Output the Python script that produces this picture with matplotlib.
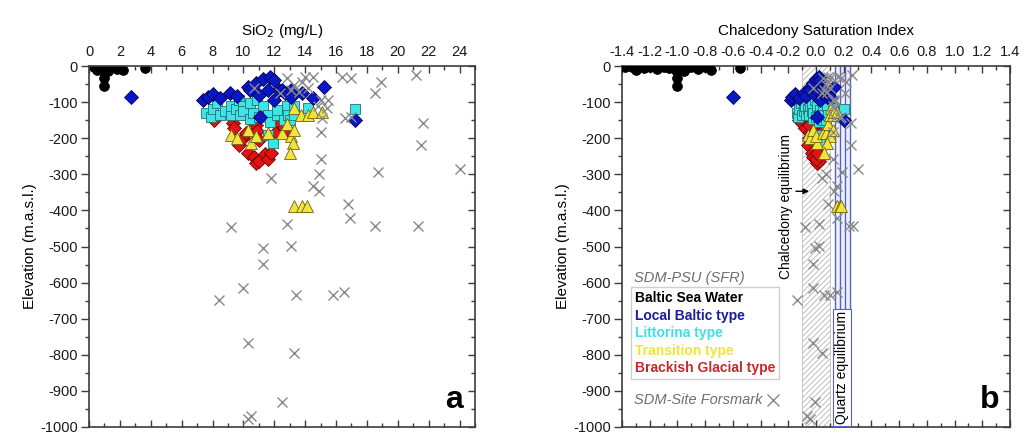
import matplotlib.pyplot as plt
from matplotlib.ticker import MultipleLocator
from matplotlib.lines import Line2D

plt.rcParams['font.family'] = ['Liberation Sans', 'DejaVu Sans']
plt.rcParams['axes.unicode_minus'] = False
plt.rcParams['hatch.linewidth'] = 0.6

# --- SDM-PSU (SFR) groundwater types: SiO2 (mg/L), chalcedony SI, elevation (m) ---
baltic_sio2 = [0.3, 0.5, 0.6, 0.7, 0.8, 0.9, 1.0, 1.1, 1.2, 1.3, 1.4, 1.6, 1.8, 2.0, 2.2,
               0.5, 1.2, 0.95, 1.0, 1.0, 3.6]
baltic_si = [-1.38, -1.33, -1.28, -1.24, -1.20, -1.15, -1.10, -1.06, -1.02, -0.98, -0.94,
             -0.90, -0.85, -0.80, -0.76, -1.30, -0.95, -1.00, -1.00, -1.00, -0.55]
baltic_elev = [-2, -4, -1, -6, -3, -8, -2, -5, -9, -3, -6, -2, -7, -4, -10,
               -12, -14, -18, -32, -55, -5]

local_sio2 = [2.7, 7.4, 7.7, 8.0, 8.5, 9.1, 9.6, 10.3, 10.4, 10.8, 11.0, 11.1, 11.3, 11.6,
              11.7, 12.0, 12.0, 12.3, 12.5, 12.7, 13.1, 13.1, 13.8, 14.5, 15.2, 17.2]
local_si = [-0.60, -0.18, -0.17, -0.15, -0.12, -0.09, -0.07, -0.04, -0.04, -0.02, -0.01,
            0.01, 0.00, 0.01, 0.02, 0.03, 0.03, 0.04, 0.04, 0.05, 0.06, 0.08, 0.09, 0.11,
            0.13, 0.20]
local_elev = [-85, -94, -85, -78, -88, -76, -82, -57, -66, -47, -80, -140, -36, -66,
              -30, -38, -94, -66, -66, -75, -66, -85, -75, -88, -58, -150]

littorina_sio2 = [7.6, 7.9, 8.0, 8.3, 8.5, 8.8, 9.2, 9.2, 9.5, 9.7, 9.8, 10.0, 10.0, 10.4,
                  10.4, 10.6, 10.9, 11.0, 11.3, 11.6, 11.7, 12.2, 12.2, 12.6, 12.8, 12.9,
                  13.0, 13.3, 13.3, 14.2, 11.6, 11.9, 17.2]
littorina_si = [-0.14, -0.13, -0.12, -0.11, -0.10, -0.09, -0.07, -0.08, -0.06, -0.05, -0.05,
                -0.04, -0.03, -0.03, -0.02, -0.02, -0.01, 0.00, 0.01, 0.02, 0.02, 0.04,
                0.03, 0.05, 0.05, 0.06, 0.07, 0.08, 0.09, 0.12, 0.03, 0.05, 0.20]
littorina_elev = [-130, -140, -120, -102, -135, -125, -135, -112, -120, -94, -135, -110,
                  -125, -102, -148, -130, -94, -140, -112, -135, -154, -135, -121, -150,
                  -112, -135, -150, -112, -135, -116, -190, -212, -118]

transition_sio2 = [9.2, 9.6, 10.3, 10.5, 10.8, 11.6, 12.5, 12.8, 13.1, 13.2, 13.0, 13.3,
                   13.3, 13.7, 14.2, 14.5, 15.1, 13.3, 13.8, 14.1]
transition_si = [-0.06, -0.04, -0.02, 0.01, 0.00, 0.05, 0.07, 0.09, 0.10, 0.08, 0.06, 0.12,
                 0.11, 0.10, 0.12, 0.13, 0.15, 0.15, 0.17, 0.18]
transition_elev = [-190, -199, -176, -212, -195, -185, -185, -160, -195, -212, -240, -176,
                   -116, -135, -135, -127, -127, -388, -388, -388]

glacial_sio2 = [8.1, 9.3, 9.4, 9.7, 10.0, 10.2, 10.3, 10.7, 10.7, 10.8, 10.8, 10.9, 11.0,
                11.0, 11.4, 11.6, 11.8, 12.1, 12.3, 12.6, 12.9]
glacial_si = [-0.12, -0.10, -0.08, -0.06, -0.05, -0.04, -0.03, -0.02, -0.02, -0.05, 0.01,
              -0.01, -0.01, 0.02, 0.03, 0.00, 0.01, 0.03, 0.04, 0.05, 0.06]
glacial_elev = [-150, -157, -171, -218, -199, -185, -240, -182, -251, -163, -268, -180,
                -204, -264, -245, -259, -240, -182, -157, -168, -176]

# --- SDM-Site Forsmark ---
site_sio2 = [16.4, 17.0, 18.5, 18.9, 21.2, 21.6, 21.5, 24.0, 18.7, 11.8, 15.0, 14.9, 14.5,
             14.9, 15.0, 15.5, 15.4, 16.6, 17.0, 12.8, 13.3, 13.8, 14.0, 14.5, 14.2, 13.6,
             13.1, 10.7, 12.4, 15.0, 14.8, 15.1, 16.8, 9.2, 8.4, 10.0, 11.3, 11.3, 12.8,
             13.1, 13.4, 15.8, 16.5, 16.9, 18.5, 21.3, 10.3, 13.3, 12.5, 10.3, 10.5]
site_si = [0.16, 0.18, 0.21, 0.22, 0.26, 0.25, 0.25, 0.30, 0.19, 0.04, 0.12, 0.07, 0.15,
           0.13, 0.12, 0.14, 0.13, 0.17, 0.18, 0.05, 0.07, 0.09, 0.09, 0.11, 0.10, 0.08,
           0.06, -0.02, 0.04, 0.12, 0.12, 0.13, 0.09, -0.08, -0.14, -0.02, -0.01, -0.02,
           0.02, 0.02, 0.06, 0.10, 0.15, 0.15, 0.24, 0.27, -0.02, 0.045, -0.01, -0.04,
           -0.065]
site_elev = [-30, -33, -75, -43, -25, -158, -218, -286, -295, -309, -259, -300, -333, -347,
             -182, -94, -116, -143, -140, -33, -52, -43, -30, -30, -61, -71, -66, -61, -75,
             -94, -112, -143, -383, -447, -648, -615, -505, -548, -438, -498, -633, -633,
             -625, -421, -443, -443, -766, -794, -931, -978, -970]

# label, data, marker style, colour of the legend text
groups = [
    ("Brackish Glacial type", glacial_sio2, glacial_si, glacial_elev,
     dict(marker='D', ms=7.5, mfc='#e01414', mec='#6a0000', mew=0.6), '#c8282c'),
    ("Littorina type", littorina_sio2, littorina_si, littorina_elev,
     dict(marker='s', ms=7, mfc='#3ce6e6', mec='#2a6e6e', mew=0.6), '#3ee0e8'),
    ("Transition type", transition_sio2, transition_si, transition_elev,
     dict(marker='^', ms=8, mfc='#f2e43c', mec='#6e6414', mew=0.6), '#f0e43a'),
    ("Local Baltic type", local_sio2, local_si, local_elev,
     dict(marker='D', ms=7.5, mfc='#0a18c4', mec='#00005a', mew=0.6), '#1c1c9c'),
    ("Baltic Sea Water", baltic_sio2, baltic_si, baltic_elev,
     dict(marker='o', ms=7, mfc='black', mec='black', mew=0.6), 'black'),
]
legend_order = ["Baltic Sea Water", "Local Baltic type", "Littorina type",
                "Transition type", "Brackish Glacial type"]

fig = plt.figure(figsize=(10.24, 4.34), dpi=100)
ax_a = fig.add_axes([89 / 1024, 7 / 434, 386 / 1024, 361 / 434])
ax_b = fig.add_axes([622 / 1024, 7 / 434, 388 / 1024, 361 / 434])

frame = '#3c3c3c'


def style_axes(ax, xmaj, xmin):
    ax.set_ylim(-1000, 0)
    ax.xaxis.set_major_locator(MultipleLocator(xmaj))
    ax.xaxis.set_minor_locator(MultipleLocator(xmin))
    ax.yaxis.set_major_locator(MultipleLocator(100))
    ax.yaxis.set_minor_locator(MultipleLocator(50))
    for s in ax.spines.values():
        s.set_color(frame)
        s.set_linewidth(1.2)
    ax.xaxis.set_ticks_position('top')
    ax.tick_params(axis='x', which='both', direction='in', top=True, bottom=True,
                   labeltop=True, labelbottom=False, color=frame, labelsize=10.5,
                   pad=5, labelcolor='#1a1a1a')
    ax.tick_params(axis='x', which='major', length=5, width=1)
    ax.tick_params(axis='x', which='minor', length=3, width=1)
    ax.tick_params(axis='y', which='both', direction='out', right=False, color=frame,
                   labelsize=10.5, pad=2, labelcolor='#1a1a1a')
    ax.tick_params(axis='y', which='major', length=6, width=1)
    ax.tick_params(axis='y', which='minor', length=3, width=1)
    # inward ticks on the right-hand frame
    sec = ax.secondary_yaxis('right')
    sec.yaxis.set_major_locator(MultipleLocator(100))
    sec.yaxis.set_minor_locator(MultipleLocator(50))
    sec.tick_params(which='both', direction='in', labelright=False, color=frame)
    sec.tick_params(which='major', length=5, width=1)
    sec.tick_params(which='minor', length=3, width=1)
    sec.spines['right'].set_visible(False)
    ax.set_ylabel("Elevation (m.a.s.l.)", fontsize=11, labelpad=2)


# ---------- panel a: SiO2 ----------
for label, sio2, si, elev, mk, _ in groups:
    ax_a.plot(sio2, elev, ls='none', **mk)
ax_a.plot(site_sio2, site_elev, ls='none', marker='x', ms=7, mew=1.0, color='#8a8a8a')
ax_a.set_xlim(0, 25)
style_axes(ax_a, 2, 1)
ax_a.set_xlabel("SiO$_2$ (mg/L)", fontsize=11, labelpad=7)
ax_a.xaxis.set_label_position('top')
ax_a.text(0.945, 0.075, "a", transform=ax_a.transAxes, fontsize=23, fontweight='bold',
          ha='center', va='center')

# ---------- panel b: chalcedony saturation index ----------
ax_b.axvspan(-0.1, 0.1, facecolor='white', edgecolor='#b4b4b4', hatch='//////',
             linewidth=0.5, zorder=0)
ax_b.axvspan(0.135, 0.245, facecolor='#eef0fb', edgecolor='none', zorder=0)
for xv in [0.135, 0.17, 0.21, 0.245]:
    ax_b.axvline(xv, color='#5564c4', lw=1.0, zorder=1)

for label, sio2, si, elev, mk, _ in groups:
    ax_b.plot(si, elev, ls='none', zorder=3, **mk)
ax_b.plot(site_si, site_elev, ls='none', marker='x', ms=7, mew=1.0, color='#8a8a8a',
          zorder=4)

ax_b.text(-0.215, -388, "Chalcedony equilibrium", rotation=90, ha='center', va='center',
          fontsize=10, zorder=5)
ax_b.annotate("", xy=(-0.03, -347), xytext=(-0.165, -347),
              arrowprops=dict(arrowstyle='-|>', color='black', lw=1.0,
                              mutation_scale=8), zorder=5)
ax_b.text(0.19, -835, "Quartz equilibrium", rotation=90, ha='center', va='center',
          fontsize=10, zorder=5,
          bbox=dict(boxstyle='square,pad=0.15', fc='white', ec='#5564c4', lw=0.8))

ax_b.set_xlim(-1.4, 1.4)
style_axes(ax_b, 0.2, 0.1)
ax_b.xaxis.set_major_formatter(plt.FuncFormatter(lambda v, p: f"{v:.1f}"))
ax_b.set_xlabel("Chalcedony Saturation Index", fontsize=11, labelpad=7)
ax_b.xaxis.set_label_position('top')
ax_b.text(0.948, 0.075, "b", transform=ax_b.transAxes, fontsize=23, fontweight='bold',
          ha='center', va='center')

# legend block
text_colours = {g[0]: g[5] for g in groups}
handles = [Line2D([], [], ls='none') for _ in legend_order]
leg = ax_b.legend(handles, legend_order, loc='upper left',
                  bbox_to_anchor=(0.022, 0.388), handlelength=0, handletextpad=0,
                  labelcolor=[text_colours[n] for n in legend_order],
                  prop=dict(weight='bold', size=10), frameon=True, fancybox=False,
                  edgecolor='#c4c4c4', borderpad=0.3, labelspacing=0.25,
                  borderaxespad=0)
leg.get_frame().set_linewidth(1.0)
leg.set_zorder(6)
ax_b.text(0.032, 0.412, "SDM-PSU (SFR)", transform=ax_b.transAxes, fontsize=10.5,
          style='italic', color='#6e6e6e', va='center')
ax_b.text(0.032, 0.074, "SDM-Site Forsmark", transform=ax_b.transAxes, fontsize=10.5,
          style='italic', color='#6e6e6e', va='center')
ax_b.plot([0.388], [0.074], transform=ax_b.transAxes, ls='none', marker='x', ms=8,
          mew=1.0, color='#8a8a8a', clip_on=False)

fig.savefig("out.png", dpi=100)
